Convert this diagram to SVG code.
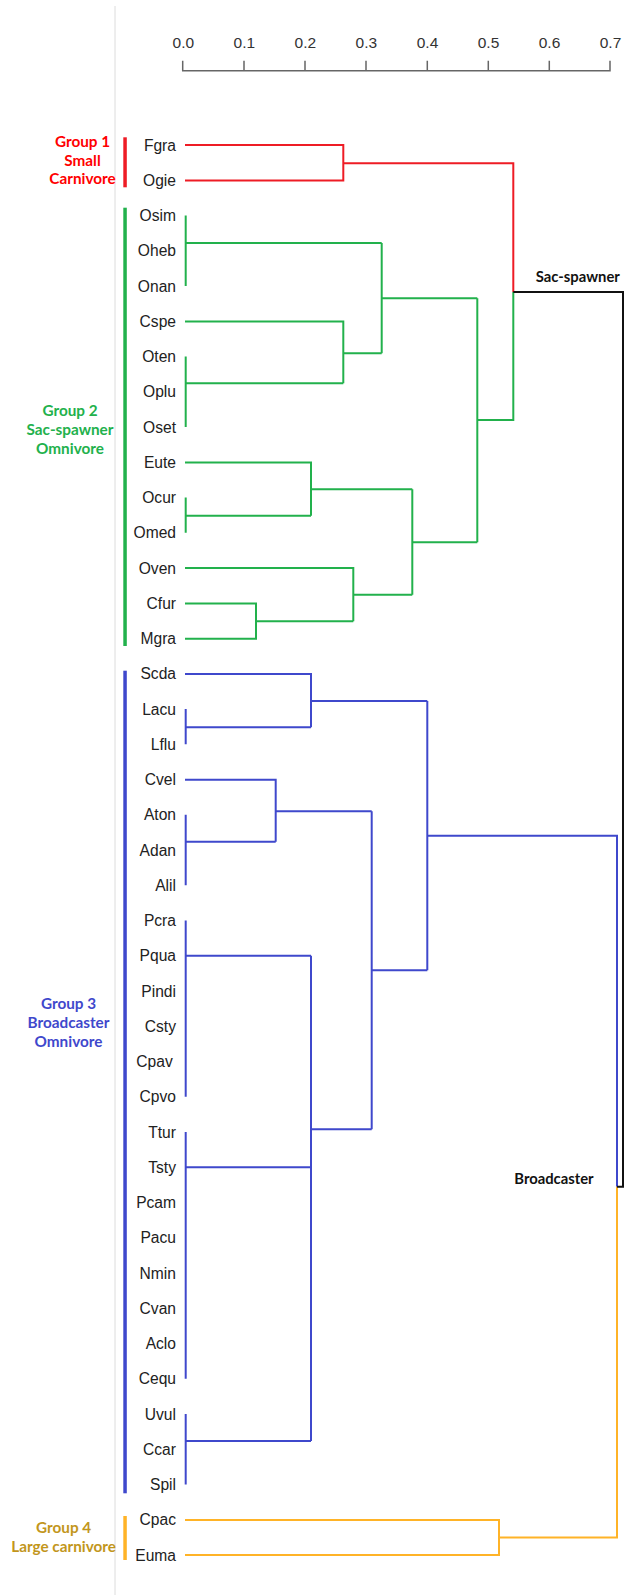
<svg xmlns="http://www.w3.org/2000/svg" width="637" height="1595" viewBox="0 0 637 1595">
<style>
.leaf{font-family:"Liberation Sans",Arial,sans-serif;font-size:15.6px;fill:#222;text-anchor:end}
.ax{font-family:"Liberation Sans",Arial,sans-serif;font-size:15.5px;fill:#333;text-anchor:middle}
.grp{font-family:Lato,"Liberation Sans",sans-serif;font-weight:bold;font-size:15.3px;text-anchor:middle}
.clab{font-family:Lato,"Liberation Sans",sans-serif;font-weight:bold;font-size:14.8px;fill:#111}
.ln{fill:none;stroke-width:2}
.r{stroke:#ee1c25}.g{stroke:#22b14c}.b{stroke:#3f48cc}.o{stroke:#ffb327}.k{stroke:#111}
</style>
<rect width="637" height="1595" fill="#fff"/>
<line x1="115" y1="6" x2="115" y2="1595" stroke="#dcdcdc" stroke-width="1"/>
<g id="axis">
<path d="M182.7 60.7V70.7H610V60.7M244 60.7V70.7M305 60.7V70.7M366 60.7V70.7M427.3 60.7V70.7M488.3 60.7V70.7M549.3 60.7V70.7" fill="none" stroke="#666" stroke-width="1.5"/>
<text class="ax" x="183.3" y="48">0.0</text>
<text class="ax" x="244.3" y="48">0.1</text>
<text class="ax" x="305.3" y="48">0.2</text>
<text class="ax" x="366.3" y="48">0.3</text>
<text class="ax" x="427.5" y="48">0.4</text>
<text class="ax" x="488.5" y="48">0.5</text>
<text class="ax" x="549.5" y="48">0.6</text>
<text class="ax" x="610.5" y="48">0.7</text>
</g>
<g id="group1">
<rect x="123.3" y="137.3" width="3.5" height="50" fill="#ee1c25"/>
<text class="grp" fill="#ff0000" x="82.5" y="146.7">Group 1</text>
<text class="grp" fill="#ff0000" x="82.5" y="165.7">Small</text>
<text class="grp" fill="#ff0000" x="82.5" y="184.3">Carnivore</text>
</g>
<g id="group2">
<rect x="123.3" y="207.7" width="3.5" height="438.3" fill="#22b14c"/>
<text class="grp" fill="#22b14c" x="70" y="416">Group 2</text>
<text class="grp" fill="#22b14c" x="70" y="435">Sac-spawner</text>
<text class="grp" fill="#22b14c" x="70" y="454">Omnivore</text>
</g>
<g id="group3">
<rect x="123.3" y="670.7" width="3.5" height="822.6" fill="#3f48cc"/>
<text class="grp" fill="#3f48cc" x="68.5" y="1009.3">Group 3</text>
<text class="grp" fill="#3f48cc" x="68.5" y="1028.3">Broadcaster</text>
<text class="grp" fill="#3f48cc" x="68.5" y="1047.3">Omnivore</text>
</g>
<g id="group4">
<rect x="123.3" y="1516" width="3.5" height="44" fill="#ffb327"/>
<text class="grp" fill="#c2961c" x="63.6" y="1532.7">Group 4</text>
<text class="grp" fill="#c2961c" x="63.6" y="1552">Large carnivore</text>
</g>
<g id="connectors">
<path class="ln r" d="M185 145H343.3V180.5H185M343.3 163.3H513.3V292"/>
<path class="ln g" d="M185.7 215.5V286M185.7 243H381.7M185 321.5H343.3V383.3M185.7 356.5V427M185.7 383.3H343.3M343.3 353.3H381.7M381.7 243V353.3M381.7 298.3H477.3M185 462.5H311V515.7M185.7 497.5V532.75M185.7 515.7H311M311 489.3H412.3M185 568H353.3V621.3M185 603.5H256V638.7H185M256 621.3H353.3M353.3 594.7H412.3M412.3 489.3V594.7M412.3 542.3H477.3M477.3 298.3V542.3M477.3 420H513.3V292"/>
<path class="ln b" d="M185 674H311V727.3M185.7 709V744.25M185.7 727.3H311M311 701H427.3M185 779.8H275.7V841.7M185.7 814.75V885.25M185.7 841.7H275.7M275.7 811.3H371.7M185.7 920.5V1096.75M185.7 955.7H311M185.7 1132V1378.75M185.7 1167.3H311M185.7 1414V1484.5M185.7 1441H311M311 955.7V1441M311 1129.3H371.7M371.7 811.3V1129.3M371.7 970.3H427.3M427.3 701V970.3M427.3 835.7H617V1186.7"/>
<path class="ln o" d="M185 1520H499V1555H185M499 1537.4H617V1186.7"/>
<path class="ln k" d="M513.3 292H623V1186.7H617"/>
</g>
<g id="clade-labels">
<text id="sac-spawner" class="clab" x="535.7" y="282.3">Sac-spawner</text>
<text id="broadcaster" class="clab" x="514.3" y="1183.8">Broadcaster</text>
</g>
<g id="leaves">
<g id="leaf-Fgra"><text class="leaf" x="176" y="150.5">Fgra</text></g>
<g id="leaf-Ogie"><text class="leaf" x="176" y="185.75">Ogie</text></g>
<g id="leaf-Osim"><text class="leaf" x="176" y="221">Osim</text></g>
<g id="leaf-Oheb"><text class="leaf" x="176" y="256.25">Oheb</text></g>
<g id="leaf-Onan"><text class="leaf" x="176" y="291.5">Onan</text></g>
<g id="leaf-Cspe"><text class="leaf" x="176" y="326.75">Cspe</text></g>
<g id="leaf-Oten"><text class="leaf" x="176" y="362">Oten</text></g>
<g id="leaf-Oplu"><text class="leaf" x="176" y="397.25">Oplu</text></g>
<g id="leaf-Oset"><text class="leaf" x="176" y="432.5">Oset</text></g>
<g id="leaf-Eute"><text class="leaf" x="176" y="467.75">Eute</text></g>
<g id="leaf-Ocur"><text class="leaf" x="176" y="503">Ocur</text></g>
<g id="leaf-Omed"><text class="leaf" x="176" y="538.25">Omed</text></g>
<g id="leaf-Oven"><text class="leaf" x="176" y="573.5">Oven</text></g>
<g id="leaf-Cfur"><text class="leaf" x="176" y="608.75">Cfur</text></g>
<g id="leaf-Mgra"><text class="leaf" x="176" y="644">Mgra</text></g>
<g id="leaf-Scda"><text class="leaf" x="176" y="679.25">Scda</text></g>
<g id="leaf-Lacu"><text class="leaf" x="176" y="714.5">Lacu</text></g>
<g id="leaf-Lflu"><text class="leaf" x="176" y="749.75">Lflu</text></g>
<g id="leaf-Cvel"><text class="leaf" x="176" y="785">Cvel</text></g>
<g id="leaf-Aton"><text class="leaf" x="176" y="820.25">Aton</text></g>
<g id="leaf-Adan"><text class="leaf" x="176" y="855.5">Adan</text></g>
<g id="leaf-Alil"><text class="leaf" x="176" y="890.75">Alil</text></g>
<g id="leaf-Pcra"><text class="leaf" x="176" y="926">Pcra</text></g>
<g id="leaf-Pqua"><text class="leaf" x="176" y="961.25">Pqua</text></g>
<g id="leaf-Pindi"><text class="leaf" x="176" y="996.5">Pindi</text></g>
<g id="leaf-Csty"><text class="leaf" x="176" y="1031.75">Csty</text></g>
<g id="leaf-Cpav"><text class="leaf" x="172.7" y="1067">Cpav</text></g>
<g id="leaf-Cpvo"><text class="leaf" x="176" y="1102.25">Cpvo</text></g>
<g id="leaf-Ttur"><text class="leaf" x="176" y="1137.5">Ttur</text></g>
<g id="leaf-Tsty"><text class="leaf" x="176" y="1172.75">Tsty</text></g>
<g id="leaf-Pcam"><text class="leaf" x="176" y="1208">Pcam</text></g>
<g id="leaf-Pacu"><text class="leaf" x="176" y="1243.25">Pacu</text></g>
<g id="leaf-Nmin"><text class="leaf" x="176" y="1278.5">Nmin</text></g>
<g id="leaf-Cvan"><text class="leaf" x="176" y="1313.75">Cvan</text></g>
<g id="leaf-Aclo"><text class="leaf" x="176" y="1349">Aclo</text></g>
<g id="leaf-Cequ"><text class="leaf" x="176" y="1384.25">Cequ</text></g>
<g id="leaf-Uvul"><text class="leaf" x="176" y="1419.5">Uvul</text></g>
<g id="leaf-Ccar"><text class="leaf" x="176" y="1454.75">Ccar</text></g>
<g id="leaf-Spil"><text class="leaf" x="176" y="1490">Spil</text></g>
<g id="leaf-Cpac"><text class="leaf" x="176" y="1525.25">Cpac</text></g>
<g id="leaf-Euma"><text class="leaf" x="176" y="1560.5">Euma</text></g>
</g>
</svg>
